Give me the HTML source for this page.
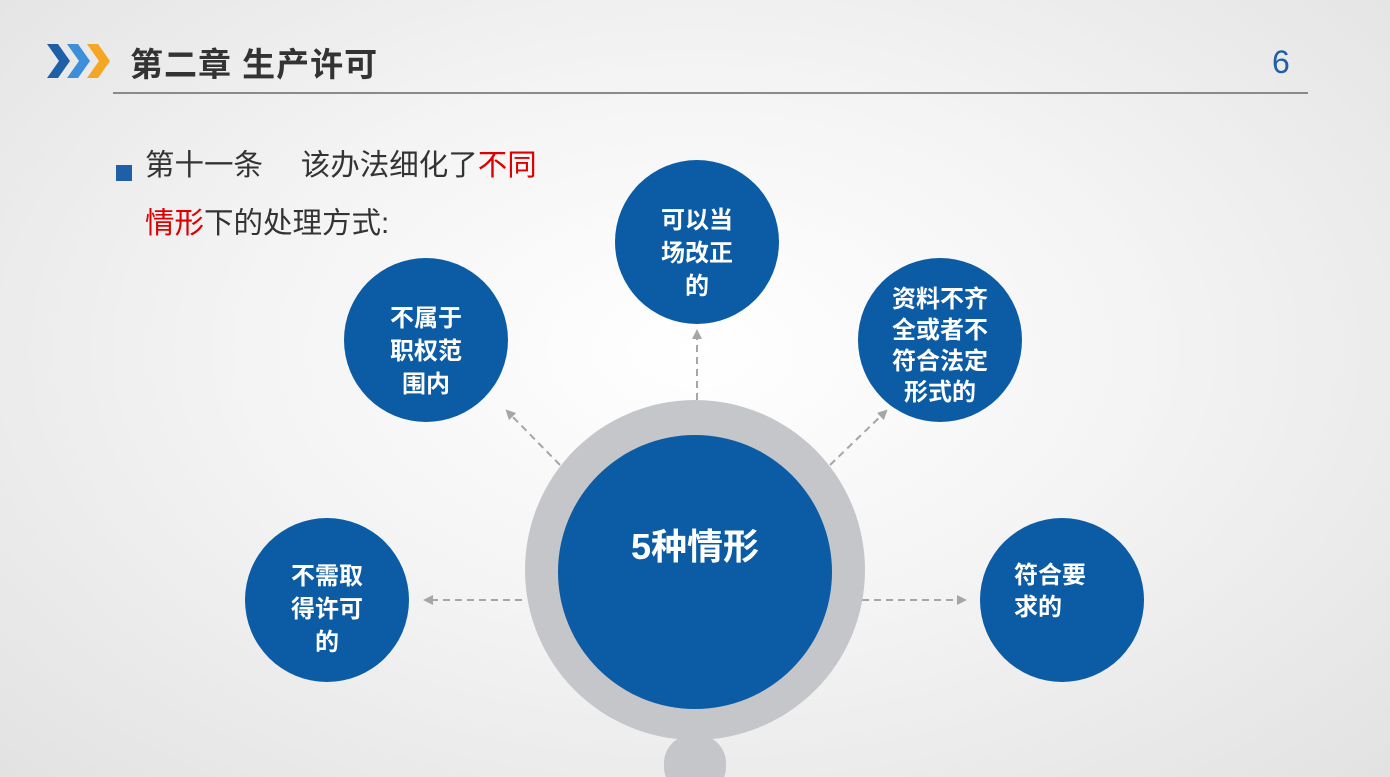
<!DOCTYPE html>
<html><head><meta charset="utf-8"><style>
body{margin:0;width:1390px;height:777px;overflow:hidden;font-family:"Liberation Sans","Noto Sans CJK SC",sans-serif;
background:radial-gradient(ellipse at 50% 45%,#ffffff 0%,#f4f4f4 45%,#e2e2e2 100%);position:relative}
.t{position:absolute;white-space:nowrap}
</style></head><body>
<svg width="1390" height="777" style="position:absolute;left:0;top:0">
<defs><marker id="a" markerWidth="10" markerHeight="10" refX="5" refY="5" orient="auto" markerUnits="userSpaceOnUse"><path d="M0,0 L10,5 L0,10 z" fill="#a6a6a6"/></marker></defs>
<polygon points="47,44 58,44 70,61 58,78 47,78 59,61" fill="#1f5fa8"/>
<polygon points="67,44 78,44 90,61 78,78 67,78 79,61" fill="#3c8fd8"/>
<polygon points="87,44 98,44 110,61 98,78 87,78 99,61" fill="#f5a623"/>
<line x1="113" y1="93" x2="1308" y2="93" stroke="#8a8a8a" stroke-width="2"/>
<rect x="116" y="165" width="16" height="16" fill="#1f5fa8"/>
<g stroke="#a6a6a6" stroke-width="2" stroke-dasharray="7,5" fill="none" marker-end="url(#a)">
<line x1="697" y1="400" x2="697" y2="334"/>
<line x1="560" y1="465" x2="509" y2="413"/>
<line x1="830" y1="465" x2="884" y2="413"/>
<line x1="522" y1="600" x2="428" y2="600"/>
<line x1="862" y1="600" x2="962" y2="600"/>
</g>
<rect x="664" y="735" width="62" height="60" rx="28" fill="#c4c6c9"/>
<circle cx="695" cy="570" r="170" fill="#c4c6c9"/>
<circle cx="695" cy="572" r="137" fill="#0b5ba5"/>
<g fill="#0b5ba5">
<circle cx="697" cy="242" r="82"/>
<circle cx="426" cy="340" r="82"/>
<circle cx="940" cy="340" r="82"/>
<circle cx="327" cy="600" r="82"/>
<circle cx="1062" cy="600" r="82"/>
</g>
</svg>
<div class="t" style="left:130px;top:38px;font-size:33px;font-weight:bold;color:#333;letter-spacing:1px">第二章 生产许可</div>
<div class="t" style="left:1272px;top:44px;font-size:32px;color:#1f5fa8">6</div>
<div class="t" style="left:145px;top:137px;font-size:29.5px;color:#333;line-height:58px">第十一条　 该办法细化了<span style="color:#d00">不同</span><br><span style="color:#d00">情形</span>下的处理方式:</div>
<div class="t" style="left:595px;top:518px;width:200px;text-align:center;font-size:36px;font-weight:bold;color:#fff">5种情形</div>
<div class="t" style="left:617px;top:204px;width:160px;text-align:center;font-size:24px;font-weight:bold;color:#fff;line-height:33px;white-space:normal;padding:0 40px;box-sizing:border-box">可以当场改正的</div>
<div class="t" style="left:346px;top:302px;width:160px;text-align:center;font-size:24px;font-weight:bold;color:#fff;line-height:33px;white-space:normal;padding:0 40px;box-sizing:border-box">不属于职权范围内</div>
<div class="t" style="left:860px;top:284px;width:160px;text-align:center;font-size:24px;font-weight:bold;color:#fff;line-height:31px;white-space:normal;padding:0 32px;box-sizing:border-box">资料不齐全或者不符合法定形式的</div>
<div class="t" style="left:247px;top:560px;width:160px;text-align:center;font-size:24px;font-weight:bold;color:#fff;line-height:33px;white-space:normal;padding:0 40px;box-sizing:border-box">不需取得许可的</div>
<div class="t" style="left:982px;top:560px;width:160px;text-align:left;font-size:24px;font-weight:bold;color:#fff;line-height:32px;white-space:normal;padding:0 40px 0 32px;box-sizing:border-box">符合要求的</div>
</body></html>
